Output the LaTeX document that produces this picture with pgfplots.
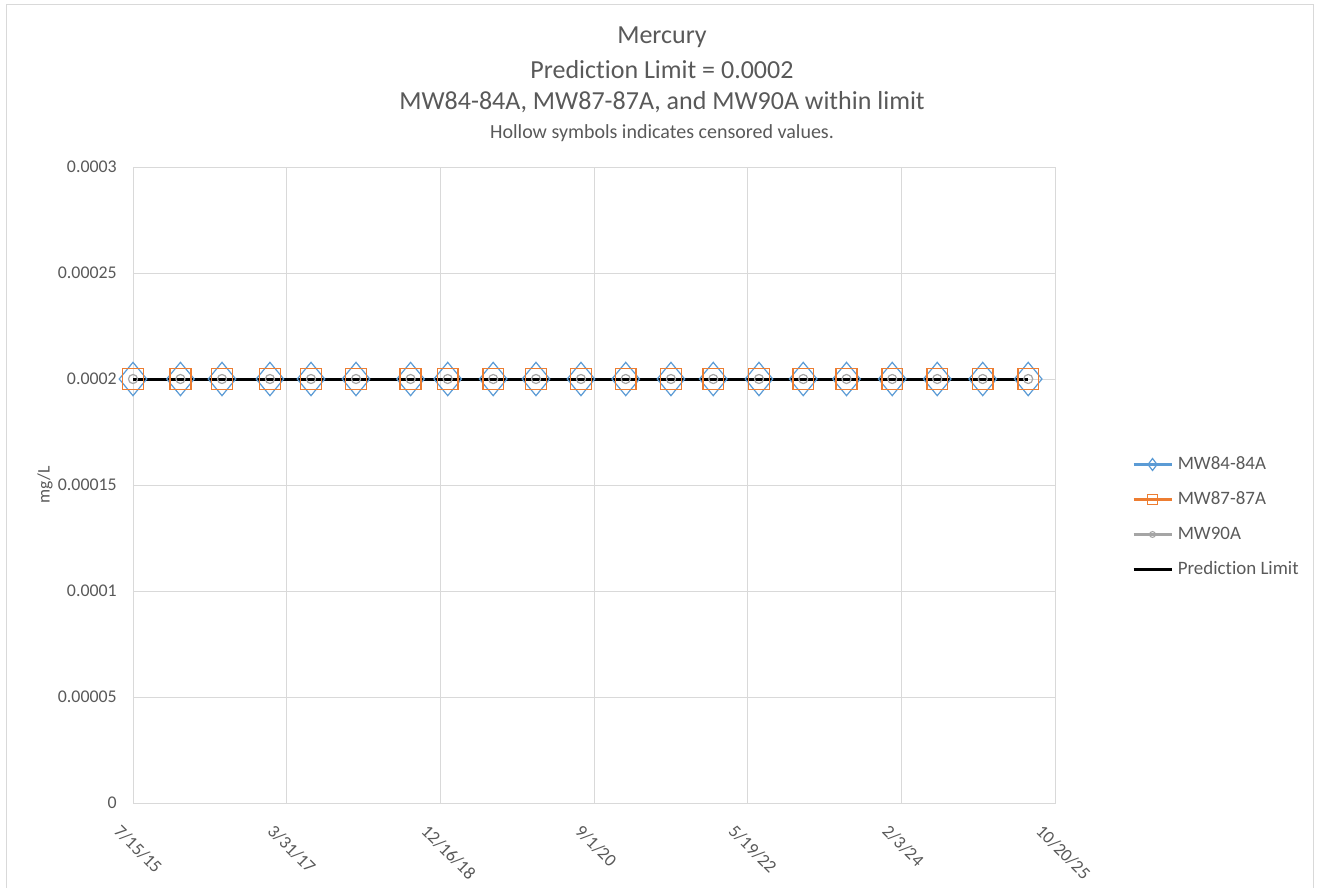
\documentclass[border=0pt]{standalone}
\usepackage{pgfplots}
\pgfplotsset{compat=1.18}
\usepackage{fontspec}
\setmainfont[Ligatures={NoCommon}]{Carlito}

\definecolor{c84}{HTML}{5B9BD5}
\definecolor{c87}{HTML}{ED7D31}
\definecolor{c90}{HTML}{A5A5A5}
\definecolor{gridc}{HTML}{D9D9D9}
\definecolor{txt}{HTML}{595959}

% x = days after 7/15/15
\pgfplotstableread{
day   val
0     0.0002
193   0.0002
362   0.0002
557   0.0002
724   0.0002
907   0.0002
1129  0.0002
1280  0.0002
1465  0.0002
1639  0.0002
1822  0.0002
2004  0.0002
2188  0.0002
2360  0.0002
2546  0.0002
2726  0.0002
2902  0.0002
3088  0.0002
3271  0.0002
3456  0.0002
3641  0.0002
}\samples

\begin{document}
\begin{tikzpicture}
\useasboundingbox (0,0) rectangle (990pt,-666pt);
\draw[gridc, line width=0.75pt] (4.5pt,-3.75pt) rectangle (984.75pt,-670pt);

\node[txt, font=\fontsize{19.5}{23}\selectfont] at (496.5pt,-27.75pt) {Mercury};
\node[txt, font=\fontsize{19.5}{23}\selectfont] at (496.5pt,-52.5pt) {Prediction Limit = 0.0002};
\node[txt, font=\fontsize{19.5}{23}\selectfont] at (496.5pt,-76.5pt) {MW84-84A, MW87-87A, and MW90A within limit};
\node[txt, font=\fontsize{15}{18}\selectfont] at (496.5pt,-99.75pt) {Hollow symbols indicates censored values.};
\node[txt, font=\fontsize{13.2}{16}\selectfont, rotate=90] at (33.75pt,-363.75pt) {mg/L};

\begin{axis}[
  at={(99.75pt,-602.25pt)}, anchor=south west,
  scale only axis, width=691.5pt, height=477pt,
  xmin=0, xmax=3750, ymin=0, ymax=0.0003,
  clip=false,
  xtick={0,625,...,3750},
  xticklabels={7/15/15,3/31/17,12/16/18,9/1/20,5/19/22,2/3/24,10/20/25},
  ytick={0,0.00005,0.0001,0.00015,0.0002,0.00025,0.0003},
  yticklabels={0,0.00005,0.0001,0.00015,0.0002,0.00025,0.0003},
  scaled y ticks=false,
  grid=major,
  major grid style={gridc, line width=0.75pt},
  axis line style={gridc, line width=0.75pt},
  tick style={draw=none},
  ticklabel style={txt, font=\fontsize{13.4}{16}\selectfont, inner sep=0pt},
  yticklabel style={xshift=-12pt},
  xticklabel style={xshift=-12pt, yshift=-18.75pt, rotate=-45, anchor=west},
  legend style={at={(1.0835,0.4497)}, anchor=west, draw=none, fill=none,
    inner sep=0pt, row sep=13.25pt,
    nodes={inner sep=0pt, text height=10pt, text depth=3pt, txt,
      font=\fontsize{14.2}{17}\selectfont},
    /tikz/every odd column/.append style={column sep=3.75pt}},
  legend cell align=left,
]
\addplot[only marks, mark=diamond, mark size=12.5pt, c84,
  mark options={line width=0.9pt, fill=white, xscale=1.1},
  legend image code/.code={
    \draw[c84, line width=1.9pt] (0pt,0pt) -- (28.5pt,0pt);
    \draw[c84, line width=0.9pt, mark options={fill=white}]
      plot[only marks, mark=diamond, mark size=4.5pt] coordinates {(14.25pt,0pt)};
  }] table[x=day, y=val] {\samples};
\addlegendentry{MW84-84A}
\addplot[only marks, mark=square, mark size=7.8pt, c87,
  mark options={line width=1.1pt, fill=white},
  legend image code/.code={
    \draw[c87, line width=1.9pt] (0pt,0pt) -- (28.5pt,0pt);
    \draw[c87, line width=1pt, mark options={fill=white}]
      plot[only marks, mark=square, mark size=3.75pt] coordinates {(14.25pt,0pt)};
  }] table[x=day, y=val] {\samples};
\addlegendentry{MW87-87A}
\addplot[only marks, mark=o, mark size=3.4pt, c90,
  mark options={line width=0.9pt, fill=white},
  legend image code/.code={
    \draw[c90, line width=1.9pt] (0pt,0pt) -- (28.5pt,0pt);
    \draw[c90, line width=0.8pt, mark options={fill=white}]
      plot[only marks, mark=o, mark size=2.2pt] coordinates {(14.25pt,0pt)};
  }] table[x=day, y=val] {\samples};
\addlegendentry{MW90A}
\addplot[black, line width=2.25pt, no marks,
  legend image code/.code={
    \draw[black, line width=1.9pt] (0pt,0pt) -- (28.5pt,0pt);
  }] coordinates {(0,0.0002) (3641,0.0002)};
\addlegendentry{Prediction Limit}
\end{axis}
\end{tikzpicture}
\end{document}
